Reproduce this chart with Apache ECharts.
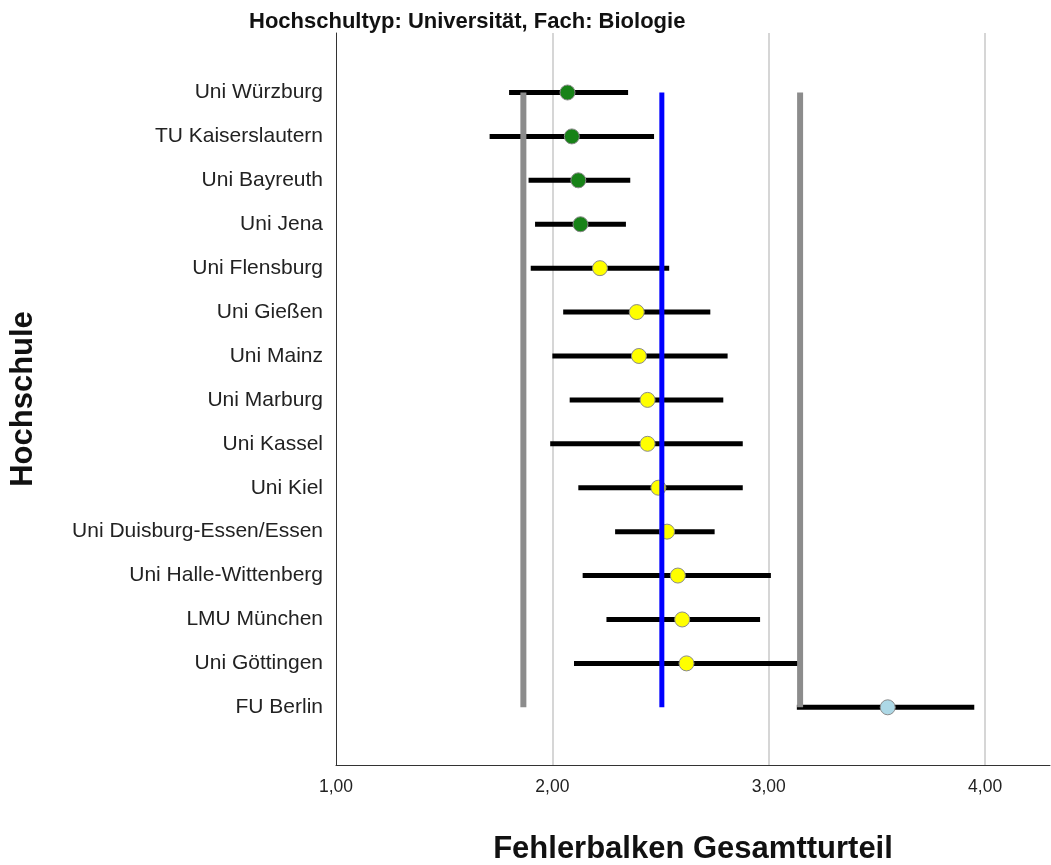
<!DOCTYPE html>
<html>
<head>
<meta charset="utf-8">
<script src="https://cdn.jsdelivr.net/npm/echarts@6/dist/echarts.min.js"></script>
<style>
html,body{margin:0;padding:0;background:#fff;}
#main{width:1051px;height:865px;}
</style>
</head>
<body>
<div id="main"></div>
<script>
// Hochschulen (von oben nach unten)
var schools=['Uni Würzburg','TU Kaiserslautern','Uni Bayreuth','Uni Jena','Uni Flensburg','Uni Gießen','Uni Mainz','Uni Marburg','Uni Kassel','Uni Kiel','Uni Duisburg-Essen/Essen','Uni Halle-Wittenberg','LMU München','Uni Göttingen','FU Berlin'];
var means=[2.07,2.09,2.12,2.13,2.22,2.39,2.40,2.44,2.44,2.49,2.53,2.58,2.60,2.62,3.55];
var lows=[1.80,1.71,1.89,1.92,1.90,2.05,2.00,2.08,1.99,2.12,2.29,2.14,2.25,2.10,3.13];
var highs=[2.35,2.47,2.36,2.34,2.54,2.73,2.81,2.79,2.88,2.88,2.75,3.01,2.96,3.14,3.95];
// gruppe: 0 = besser, 1 = mittel, 2 = schlechter
var groups=[0,0,0,0,1,1,1,1,1,1,1,1,1,1,2];
var groupColors=['#178217','#ffff00','#add8e6'];
var xTicks=[1,2,3,4];
var lowerRef=1.866;
var meanRef=2.506;
var upperRef=3.145;

var myChart=echarts.init(document.getElementById('main'));

var barData=[];
var dotData=[];
for(var i=0;i<schools.length;i++){
    barData.push([lows[i],highs[i],i]);
    dotData.push({
        value:[means[i],i],
        itemStyle:{color:groupColors[groups[i]]}
    });
}
var last=schools.length-1;

var font='"Liberation Sans", Arial, sans-serif';

var option={
    animation:false,
    backgroundColor:'#fff',
    title:{
        text:'Hochschultyp: Universität, Fach: Biologie',
        left:244,
        top:6,
        textStyle:{fontFamily:font,fontSize:22,fontWeight:'bold',color:'#111'}
    },
    grid:{left:336,right:1,top:33,bottom:100,containLabel:false,outerBoundsMode:'none'},
    xAxis:{
        type:'value',
        min:1,
        max:4.3,
        interval:1,
        name:'Fehlerbalken Gesamtturteil',
        nameLocation:'middle',
        nameGap:69,
        nameTextStyle:{fontFamily:font,fontSize:31,fontWeight:'bold',color:'#111'},
        axisLine:{show:true,onZero:false,lineStyle:{color:'#333',width:1}},
        axisTick:{show:false},
        axisLabel:{
            fontFamily:font,fontSize:17.5,color:'#222',margin:13,
            customValues:xTicks,
            formatter:function(v){return v.toFixed(2).replace('.',',');}
        },
        splitLine:{show:true,showMinLine:false,showMaxLine:false,lineStyle:{color:'#c8c8c8',width:1.5}}
    },
    yAxis:{
        type:'value',
        inverse:true,
        min:-1.355,
        max:15.314,
        name:'Hochschule',
        nameLocation:'middle',
        nameGap:297,
        nameRotate:90,
        nameTextStyle:{fontFamily:font,fontSize:31,fontWeight:'bold',color:'#111'},
        axisLine:{show:true,onZero:false,lineStyle:{color:'#333',width:1}},
        axisTick:{show:false},
        splitLine:{show:false},
        axisLabel:{
            fontFamily:font,fontSize:21,color:'#222',margin:13,
            customValues:schools.map(function(s,i){return i;}),
            formatter:function(v){return schools[Math.round(v)]||'';}
        }
    },
    series:[
        {
            type:'custom',
            data:barData,
            encode:{x:[0,1],y:2},
            z:2,
            renderItem:function(params,api){
                var a=api.coord([api.value(0),api.value(2)]);
                var b=api.coord([api.value(1),api.value(2)]);
                return {
                    type:'line',
                    shape:{x1:a[0],y1:a[1],x2:b[0],y2:b[1]},
                    style:{stroke:'#000',lineWidth:5,lineCap:'butt'}
                };
            }
        },
        {
            type:'scatter',
            data:dotData,
            symbolSize:15,
            z:3,
            itemStyle:{borderColor:'#8a8a8a',borderWidth:1,opacity:1}
        },
        {
            type:'line',
            data:[[lowerRef,0],[lowerRef,last]],
            symbol:'none',
            z:4,
            lineStyle:{color:'#8c8c8c',width:6}
        },
        {
            type:'line',
            data:[[upperRef,0],[upperRef,last]],
            symbol:'none',
            z:4,
            lineStyle:{color:'#8c8c8c',width:6}
        },
        {
            type:'line',
            data:[[meanRef,0],[meanRef,last]],
            symbol:'none',
            z:5,
            lineStyle:{color:'#0000ff',width:5}
        }
    ]
};

myChart.setOption(option);
</script>
</body>
</html>
